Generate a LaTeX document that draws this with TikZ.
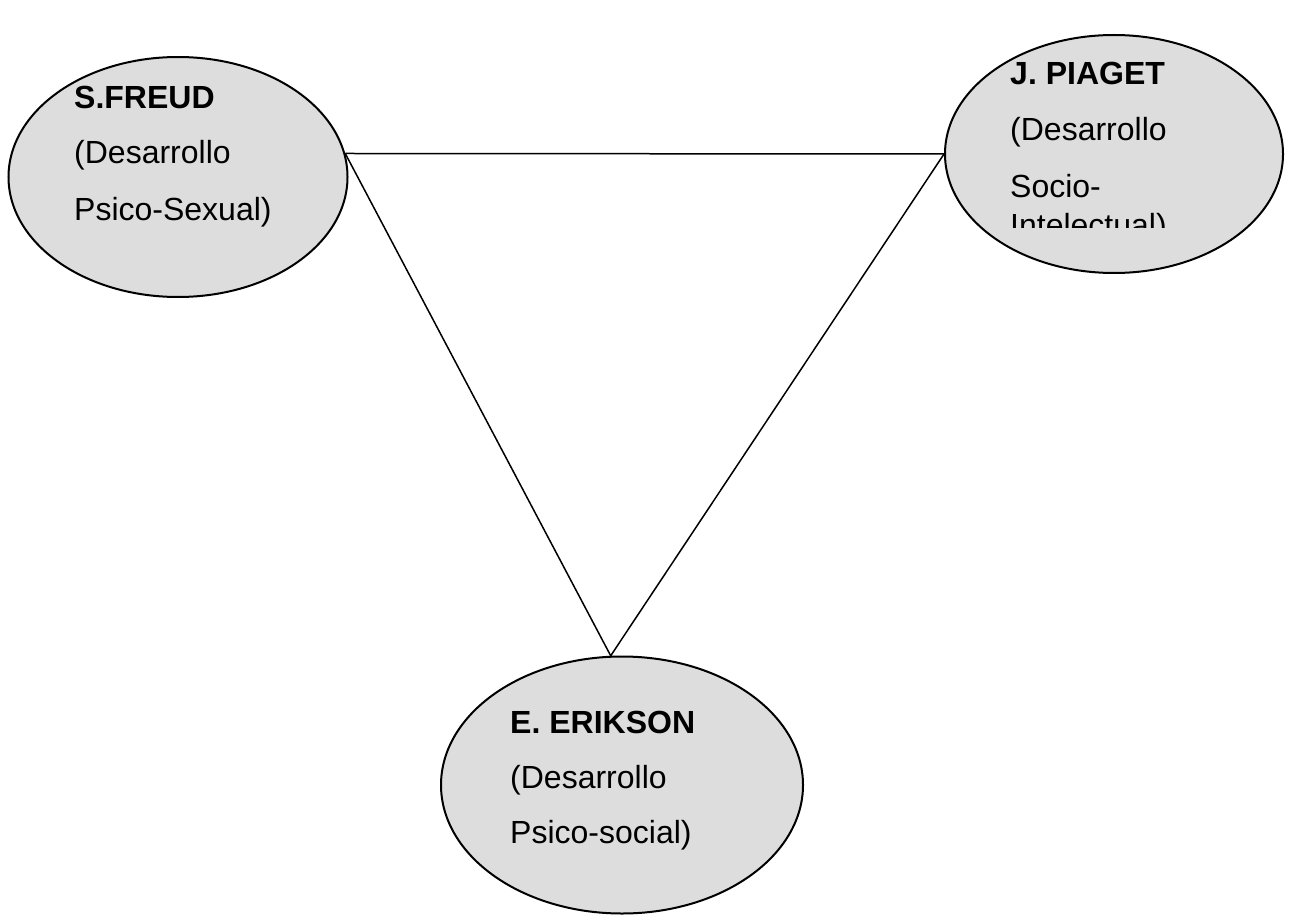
\documentclass[tikz,border=0pt]{standalone}
\usepackage{fontspec}
\setmainfont{Liberation Sans}
\usetikzlibrary{shapes.geometric}
\definecolor{bubblefill}{RGB}{221,221,221}
\begin{document}
\begin{tikzpicture}[x=1pt,y=-1pt,
  bubble/.style={ellipse,draw=black,line width=2pt,fill=bubblefill,inner sep=0pt},
  txt/.style={anchor=base west,inner sep=0pt,font=\fontsize{32}{32}\selectfont},
  ttl/.style={txt,font=\fontsize{32}{32}\selectfont\bfseries},
  link/.style={draw=black,line width=1.5pt}]
\useasboundingbox (0,0) rectangle (1289,920);
\fill[white] (0,0) rectangle (1289,920);
\node[bubble,minimum width=339pt,minimum height=240pt] (freud) at (178,177) {};
\node[bubble,minimum width=338pt,minimum height=238pt] (piaget) at (1114,154) {};
\node[bubble,minimum width=362pt,minimum height=257pt] (erikson) at (622,785) {};
\path[link] (freud.8) -- (piaget.180);
\path[link] (freud.8) -- (erikson.95.8);
\path[link] (piaget.180) -- (erikson.95.8);
% Freud text
\node[ttl] (f1) at (74,109) {S.FREUD};
\node[txt] (f2) at (74,164) {(Desarrollo};
\node[txt] (f3) at (74,220) {Psico-Sexual)};
% Piaget text
\node[ttl] (p1) at (1010,85) {J. PIAGET};
\node[txt] (p2) at (1010,141) {(Desarrollo};
\node[txt] (p3) at (1010,197) {Socio-};
\begin{scope}
\clip (1000,200) rectangle (1200,227);
\node[txt] (p4) at (1010,236) {Intelectual)};
\end{scope}
% Erikson text
\node[ttl] (e1) at (510,733) {E. ERIKSON};
\node[txt] (e2) at (510,788) {(Desarrollo};
\node[txt] (e3) at (510,843) {Psico-social)};
\end{tikzpicture}
\end{document}
